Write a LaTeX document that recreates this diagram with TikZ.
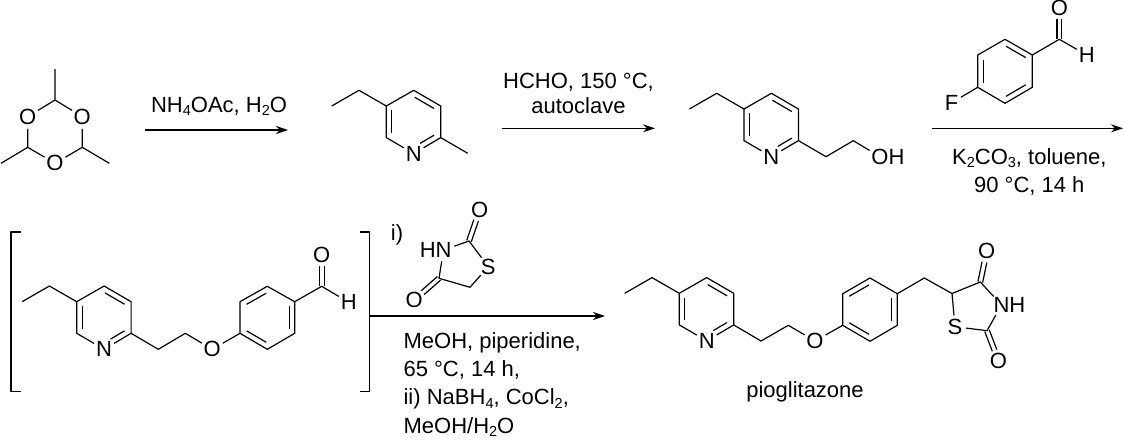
\documentclass[tikz,border=0pt]{standalone}
\usepackage{fontspec}
\setmainfont{Liberation Sans}
\usetikzlibrary{arrows.meta,calc}

\newcommand{\lowidx}[1]{\raisebox{-.28ex}{\fontsize{14.5}{14.5}\selectfont #1}}
% inner line of a ring double bond
\newcommand{\innerbond}[4][.14]{\draw ($(#2)!.14!(#3)!5.5pt!#4:(#3)$) -- ($(#3)!#1!(#2)!5.5pt!-#4:(#2)$);}
% carbonyl, two lines either side of the axis
\newcommand{\carbonyl}[2]{\draw[shorten >=11pt] ($(#1)!2.4pt!90:(#2)$) -- ($(#2)!2.4pt!-90:(#1)$);
  \draw[shorten >=11pt] ($(#1)!2.4pt!-90:(#2)$) -- ($(#2)!2.4pt!90:(#1)$);}

\tikzset{
  atom/.style={circle,inner sep=0pt},
  reagent/.style={align=center,inner sep=0pt},
  ethylpyr/.pic={
    \coordinate (me) at (-54.6,0);
    \coordinate (ch) at (-27.3,-15.7);
    \coordinate (c5) at (0,0);
    \coordinate (c4) at (27.4,-15.7);
    \coordinate (c3) at (54.4,0);
    \coordinate (c2) at (54.4,31.6);
    \node[atom] (n) at (27.4,47.6) {N};
    \coordinate (c6) at (0,31.6);
    \draw (me) -- (ch) -- (c5) -- (c4) -- (c3) -- (c2) -- (n) -- (c6) -- (c5);
    \innerbond{c5}{c6}{90}
    \innerbond{c4}{c3}{-90}
    \innerbond[.34]{c2}{n}{-90}
  }
}

\begin{document}
\begin{tikzpicture}[x=1pt,y=-1pt,line width=1.2pt,line join=round,
  every node/.style={font=\fontsize{22}{28.2}\selectfont},
  reaction/.style={-{Stealth[length=12pt,width=8pt]},line width=1.2pt}]
  \useasboundingbox (0,0) rectangle (1124,439);

  % trioxane
  \coordinate (t1) at (55,100);
  \coordinate (t2) at (27.7,147.3);
  \coordinate (t3) at (82.3,147.3);
  \coordinate (tm1) at (55,69);
  \coordinate (tm2) at (1,163.3);
  \coordinate (tm3) at (109.3,163.3);
  \node[atom] (to1) at (27.7,116.7) {O};
  \node[atom] (to2) at (82.3,116.7) {O};
  \node[atom] (to3) at (55,163.3) {O};
  \draw (tm1) -- (t1) -- (to1) -- (t2) -- (to3) -- (t3) -- (to2) -- (t1);
  \draw (t2) -- (tm2);
  \draw (t3) -- (tm3);

  % first arrow
  \coordinate (a1) at (145,130);
  \coordinate (b1) at (288,130);
  \draw[reaction] (a1) -- (b1);
  \node[reagent] (r1) at (219,106) {NH\lowidx{4}OAc, H\lowidx{2}O};

  \pic (pa) at (386.3,106) {ethylpyr};
  \coordinate (pam) at (467.7,153.3);
  \draw (pac2) -- (pam);

  % second arrow
  \coordinate (a2) at (502,128.3);
  \coordinate (b2) at (655,128.3);
  \draw[reaction] (a2) -- (b2);
  \node[reagent] (r2) at (578.5,93.5) {HCHO, 150 °C,\\[-4pt]autoclave};

  \pic (pb) at (744,109) {ethylpyr};
  \coordinate (pb1) at (826,156.7);
  \coordinate (pb2) at (853.3,140.7);
  \node[atom] (pbo) at (880,156.7) {O};
  \node[atom] (pbh) at ($(pbo)+(16.6,0)$) {H};
  \draw (pbc2) -- (pb1) -- (pb2) -- (pbo);

  % fluorobenzaldehyde
  \node[atom] (ff) at (951.7,102.7) {F};
  \coordinate (f4) at (977.7,87.3);
  \coordinate (f3) at (977.7,55);
  \coordinate (f2) at (1005,39.3);
  \coordinate (f1) at (1032.3,55);
  \coordinate (f6) at (1032.3,87.3);
  \coordinate (f5) at (1005,103.3);
  \coordinate (fc) at (1059.3,39.3);
  \node[atom] (fo) at (1059.3,8.3) {O};
  \node[atom] (fh) at (1086.7,55) {H};
  \draw (ff) -- (f4) -- (f3) -- (f2) -- (f1) -- (f6) -- (f5) -- (f4);
  \draw (f1) -- (fc) -- (fh);
  \innerbond{f3}{f4}{90}
  \innerbond{f2}{f1}{-90}
  \innerbond{f6}{f5}{-90}
  \carbonyl{fc}{fo}

  % third arrow
  \coordinate (a3) at (932,128.3);
  \coordinate (b3) at (1123,128.3);
  \draw[reaction] (a3) -- (b3);
  \node[reagent] (r3) at (1029.3,172) {K\lowidx{2}CO\lowidx{3}, toluene,\\90 °C, 14 h};

  % bracketed intermediate
  \pic (pc) at (76.7,301.7) {ethylpyr};
  \coordinate (pc1) at (158.3,349.3);
  \coordinate (pc2) at (185.3,333.3);
  \node[atom] (pco) at (212.3,349.3) {O};
  \coordinate (i1) at (240,333.3);
  \coordinate (i2) at (240,301.7);
  \coordinate (i3) at (267.3,286.3);
  \coordinate (i4) at (294.7,301.7);
  \coordinate (i5) at (294.7,333.3);
  \coordinate (i6) at (267.3,349.3);
  \coordinate (ic) at (321.7,286.3);
  \node[atom] (io) at (321.7,255) {O};
  \node[atom] (ih) at (348.7,302.3) {H};
  \draw (pcc2) -- (pc1) -- (pc2) -- (pco) -- (i1) -- (i2) -- (i3) -- (i4) -- (i5) -- (i6) -- (i1);
  \draw (i4) -- (ic) -- (ih);
  \innerbond{i2}{i3}{-90}
  \innerbond{i4}{i5}{-90}
  \innerbond{i6}{i1}{-90}
  \carbonyl{ic}{io}
  \draw (20.7,232) -- (11,232) -- (11,391.7) -- (20.7,391.7);
  \draw (360,232) -- (369.3,232) -- (369.3,391.7) -- (360,391.7);

  % fourth arrow with the thiazolidinedione
  \coordinate (a4) at (370,316);
  \coordinate (b4) at (605,316);
  \draw[reaction] (a4) -- (b4);
  \node[reagent] (r4a) at (397,235) {i)};
  \coordinate (z2) at (469,241);
  \node[atom] (zo2) at (479.7,210) {O};
  \node[atom] (zn) at (443.5,250) {N};
  \node[atom] (zh) at ($(zn)+(-15.8,0)$) {H};
  \node[atom] (zs) at (488.3,266.7) {S};
  \coordinate (z5) at (470,287.3);
  \coordinate (z4) at (439,278.3);
  \node[atom] (zo4) at (414.3,300) {O};
  \draw (zn) -- (z2) -- (zs) -- (z5) -- (z4) -- (zn);
  \carbonyl{z2}{zo2}
  \carbonyl{z4}{zo4}
  \node[reagent,align=left,anchor=north west] (r4b) at (403,332) {MeOH, piperidine,\\65 °C, 14 h,\\ii) NaBH\lowidx{4}, CoCl\lowidx{2},\\MeOH/H\lowidx{2}O};

  % product
  \pic (pd) at (679.3,293.3) {ethylpyr};
  \coordinate (pd1) at (761,341);
  \coordinate (pd2) at (788.3,325.3);
  \node[atom] (pdo) at (815,341) {O};
  \coordinate (q1) at (842.7,325.3);
  \coordinate (q2) at (842.7,293.7);
  \coordinate (q3) at (870,278);
  \coordinate (q4) at (897.3,293.7);
  \coordinate (q5) at (897.3,325.3);
  \coordinate (q6) at (870,341.3);
  \coordinate (q7) at (924.3,278);
  \coordinate (q8) at (952,293.5);
  \coordinate (q9) at (980.3,282);
  \node[atom] (qo1) at (986.7,251.3) {O};
  \node[atom] (qn) at (1001.5,305) {N};
  \node[atom] (qh) at ($(qn)+(15.8,0)$) {H};
  \coordinate (q10) at (987,330.7);
  \node[atom] (qo2) at (998.5,360.7) {O};
  \node[atom] (qs) at (955,326.7) {S};
  \draw (pdc2) -- (pd1) -- (pd2) -- (pdo) -- (q1) -- (q2) -- (q3) -- (q4) -- (q5) -- (q6) -- (q1);
  \draw (q4) -- (q7) -- (q8) -- (q9) -- (qn) -- (q10) -- (qs) -- (q8);
  \innerbond{q2}{q3}{-90}
  \innerbond{q4}{q5}{-90}
  \innerbond{q6}{q1}{-90}
  \carbonyl{q9}{qo1}
  \carbonyl{q10}{qo2}
  \node[reagent] (name) at (805,392) {pioglitazone};
\end{tikzpicture}
\end{document}
